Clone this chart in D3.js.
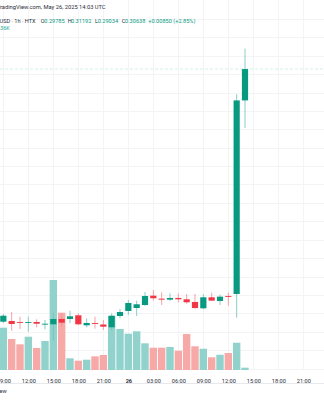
<!DOCTYPE html>
<html><head><meta charset="utf-8">
<script src="https://cdn.jsdelivr.net/npm/d3@7"></script>
<style>html,body{margin:0;padding:0;background:#fff;overflow:hidden}svg{display:block}</style>
</head><body>
<svg id="c" width="324" height="400"></svg>
<script>
const times = ["2025-05-25T09:00Z","2025-05-25T10:00Z","2025-05-25T11:00Z","2025-05-25T12:00Z","2025-05-25T13:00Z","2025-05-25T14:00Z","2025-05-25T15:00Z","2025-05-25T16:00Z","2025-05-25T17:00Z","2025-05-25T18:00Z","2025-05-25T19:00Z","2025-05-25T20:00Z","2025-05-25T21:00Z","2025-05-25T22:00Z","2025-05-25T23:00Z","2025-05-26T00:00Z","2025-05-26T01:00Z","2025-05-26T02:00Z","2025-05-26T03:00Z","2025-05-26T04:00Z","2025-05-26T05:00Z","2025-05-26T06:00Z","2025-05-26T07:00Z","2025-05-26T08:00Z","2025-05-26T09:00Z","2025-05-26T10:00Z","2025-05-26T11:00Z","2025-05-26T12:00Z","2025-05-26T13:00Z","2025-05-26T14:00Z"];
const open  = [0.23772,0.23791,0.23764,0.23745,0.23764,0.23701,0.23701,0.23845,0.23845,0.23946,0.23674,0.23737,0.23696,0.23620,0.23927,0.24063,0.24144,0.24226,0.24479,0.24398,0.24371,0.24417,0.24381,0.24308,0.24136,0.24435,0.24335,0.24471,0.24525,0.29785];
const high  = [0.23981,0.24035,0.23908,0.23908,0.23837,0.23818,0.24016,0.23999,0.24071,0.23999,0.23864,0.23908,0.23818,0.23999,0.24117,0.24362,0.24343,0.24579,0.24633,0.24570,0.24543,0.24543,0.24525,0.24525,0.24525,0.24561,0.24507,0.24561,0.29951,0.31192];
const low   = [0.23736,0.23527,0.23573,0.23500,0.23620,0.23565,0.23247,0.23636,0.23728,0.23674,0.23620,0.23582,0.23546,0.23546,0.23864,0.23954,0.23927,0.24199,0.24344,0.24226,0.24335,0.24299,0.24262,0.24117,0.24108,0.24335,0.24226,0.24207,0.23880,0.29034];
const close = [0.23935,0.23709,0.23745,0.23764,0.23717,0.23717,0.23845,0.23745,0.23918,0.23701,0.23737,0.23717,0.23636,0.23935,0.24035,0.24280,0.24245,0.24471,0.24409,0.24371,0.24417,0.24381,0.24299,0.24144,0.24435,0.24344,0.24452,0.24462,0.29785,0.30638];
// volume in thousands
const volume = [662,485,402,521,344,454,1409,897,183,146,161,214,235,845,642,568,606,418,349,349,360,302,563,371,333,199,239,266,427,36];
const tickTimes = ["2025-05-25T09:00Z","2025-05-25T12:00Z","2025-05-25T15:00Z","2025-05-25T18:00Z","2025-05-25T21:00Z","2025-05-26T00:00Z","2025-05-26T03:00Z","2025-05-26T06:00Z","2025-05-26T09:00Z","2025-05-26T12:00Z","2025-05-26T15:00Z","2025-05-26T18:00Z","2025-05-26T21:00Z"];
const priceTicks = [0.225,0.23,0.235,0.24,0.245,0.25,0.255,0.26,0.265,0.27,0.275,0.28,0.285,0.29,0.295,0.30,0.305,0.31,0.315,0.32];

const UP="#089981", DN="#f23645", UPW="#6cc2b5", DNW="#f28a93";
const VUP="#92d2cc", VDN="#f7a9a7";
const svg = d3.select("#c");
const font = "Roboto, 'Trebuchet MS', sans-serif";

const x = d3.scaleUtc().domain([new Date("2025-05-25T09:00Z"), new Date("2025-05-26T21:00Z")]).range([3.33, 303.33]);
const y = d3.scaleLinear().domain([0.23, 0.315]).range([350.1, 37.3]);
const yv = d3.scaleLinear().domain([0, 1409]).range([370, 280]);

const data = times.map((t,i)=>({t:new Date(t),o:open[i],h:high[i],l:low[i],c:close[i],v:volume[i]}));

// grid
const g = svg.append("g");
g.selectAll("line.h").data(priceTicks).join("line")
  .attr("x1",0).attr("x2",324).attr("y1",d=>Math.round(y(d))+0.5).attr("y2",d=>Math.round(y(d))+0.5)
  .attr("stroke","#f3f4f6").attr("stroke-width",1);
g.selectAll("line.v").data(tickTimes).join("line")
  .attr("x1",d=>Math.round(x(new Date(d)))+0.5).attr("x2",d=>Math.round(x(new Date(d)))+0.5)
  .attr("y1",0).attr("y2",370).attr("stroke","#f3f4f6").attr("stroke-width",1);

// volume
const bw = 8.0;
svg.append("g").selectAll("rect").data(data).join("rect")
  .attr("x",d=>x(d.t)-bw/2+0.3).attr("width",bw-0.6)
  .attr("y",d=>yv(d.v)).attr("height",d=>yv(0)-yv(d.v))
  .attr("fill",d=>d.c>=d.o?VUP:VDN);

// last price line
svg.append("line").attr("x1",0).attr("x2",324).attr("y1",y(close[close.length-1])).attr("y2",y(close[close.length-1]))
  .attr("stroke","#d6eee9").attr("stroke-width",1).attr("stroke-dasharray","3,2");

// candles
const cg = svg.append("g");
cg.selectAll("line").data(data).join("line")
  .attr("x1",d=>x(d.t)).attr("x2",d=>x(d.t)).attr("y1",d=>y(d.h)).attr("y2",d=>y(d.l))
  .attr("stroke",d=>d.c>=d.o?UPW:DNW).attr("stroke-width",0.8);
const cw = 6.2;
cg.selectAll("rect").data(data).join("rect")
  .attr("x",d=>x(d.t)-cw/2).attr("width",cw)
  .attr("y",d=>y(Math.max(d.o,d.c))).attr("height",d=>Math.max(0.9,Math.abs(y(d.o)-y(d.c))))
  .attr("fill",d=>d.c>=d.o?UP:DN);

// time axis
const ax = svg.append("g").attr("transform","translate(0,370)")
  .call(d3.axisBottom(x).tickValues(tickTimes.map(d=>new Date(d))).tickSize(0).tickPadding(9)
    .tickFormat(d=>d.getUTCHours()===0? String(d.getUTCDate()) : d3.utcFormat("%H:%M")(d)));
ax.select(".domain").remove();
ax.selectAll("text").attr("font-family",font).attr("font-size","5.6px").attr("fill","#2a2e39")
  .attr("font-weight",d=>d.getUTCHours()===0?"bold":"normal");
svg.append("line").attr("x1",0).attr("x2",324).attr("y1",383.5).attr("y2",383.5).attr("stroke","#e6e8ee");

// header texts
svg.append("text").attr("x",-3.3).attr("y",9.2).attr("font-family",font)
  .attr("font-size","5.75px").attr("fill","#2a2e39").text("TradingView.com, May 26, 2025 14:03 UTC");
const t2 = svg.append("text").attr("y",23).attr("font-family",font).attr("font-size","5.6px").attr("fill","#2a2e39");
const parts = [["USD · 1h · HTX",-0.5,"#2a2e39"],["O",40.7,"#2a2e39"],["0.29785",44.3,UP],["H",67.7,"#2a2e39"],["0.31192",71,UP],["L",95,"#2a2e39"],["0.29034",97.7,UP],["C",121.7,"#2a2e39"],["0.30638",125,UP],["+0.00850",148.3,UP],["(+2.85%)",173.3,UP]];
parts.forEach(p=>t2.append("tspan").attr("x",p[1]).attr("fill",p[2]).text(p[0]));
svg.append("text").attr("x",0).attr("y",30.3).attr("font-family",font).attr("font-size","5.6px").attr("fill","#26a69a").text("36K");
svg.append("text").attr("x",-0.5).attr("y",393.3).attr("font-family",font).attr("font-size","5.6px").attr("fill","#2a2e39").text("ew");
</script>
</body></html>
